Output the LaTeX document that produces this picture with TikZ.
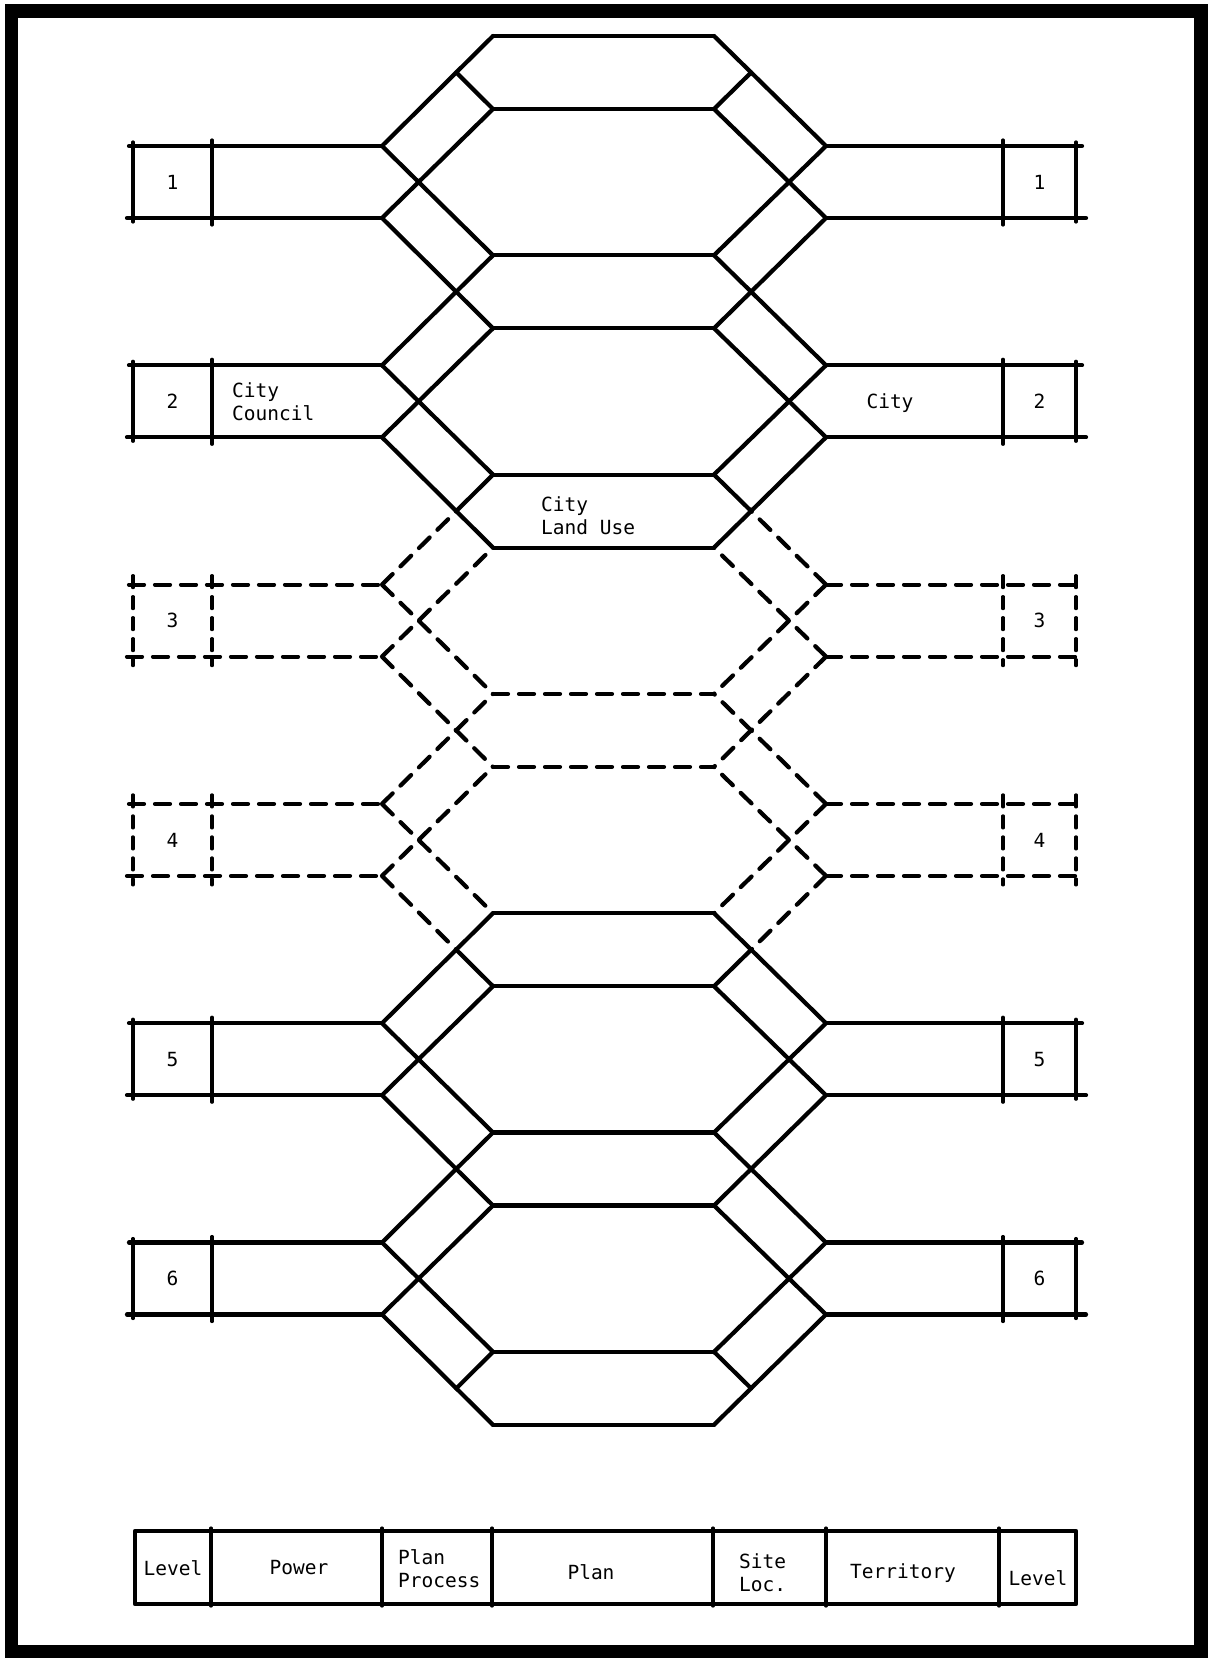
\documentclass[tikz,border=0pt]{standalone}
\usepackage{fontspec}
\setmonofont{DejaVu Sans Mono}
\begin{document}
\begin{tikzpicture}[x=1pt,y=-1pt,
  ln/.style={line width=4.2pt,line cap=round,line join=round},
  dl/.style={ln,dash pattern=on 15pt off 11pt},
  vl/.style={line width=3.2pt,line cap=round},
  vdl/.style={vl,dash pattern=on 12pt off 9pt},
  lab/.style={font=\fontsize{19.5}{23}\selectfont\ttfamily,inner sep=0pt,text=black},
]
\fill[white] (0,0) rectangle (1207,1659);
\useasboundingbox (0,0) rectangle (1207,1659);
\draw[line width=13.5pt] (11.5,11) rectangle (1201,1651.5);

% ---------- coordinates ----------
\foreach \k in {0,...,7} {
  \pgfmathsetmacro{\yt}{146+219.3*(\k-1)}
  \pgfmathsetmacro{\yb}{\yt+72}
  \coordinate (LT\k) at (382,\yt);
  \coordinate (LB\k) at (382,\yb);
  \coordinate (RT\k) at (826,\yt);
  \coordinate (RB\k) at (826,\yb);
}
\foreach \j in {0,...,6} {
  \pgfmathsetmacro{\yt}{36+219.3*\j}
  \pgfmathsetmacro{\yb}{\yt+73}
  \coordinate (PTL\j) at (493,\yt);
  \coordinate (PBL\j) at (493,\yb);
  \coordinate (PTR\j) at (714,\yt);
  \coordinate (PBR\j) at (714,\yb);
}

% ---------- level bands ----------
\foreach \k in {1,2,5,6} {
  \pgfmathsetmacro{\yt}{146+219.3*(\k-1)}
  \pgfmathsetmacro{\yb}{\yt+72}
  \draw[ln] (129,\yt) -- (LT\k) (127,\yb) -- (LB\k);
  \draw[ln] (RT\k) -- (1082,\yt) (RB\k) -- (1086,\yb);
  \draw[vl] (133,\yt-4) -- (133,\yb+4) (212,\yt-6) -- (212,\yb+7);
  \draw[vl] (1003,\yt-6) -- (1003,\yb+7) (1076,\yt-4) -- (1076,\yb+4);
  \node[lab] (numL\k) at (172.5,\yt+36) {\k};
  \node[lab] (numR\k) at (1039.5,\yt+36) {\k};
}
\foreach \k in {3,4} {
  \pgfmathsetmacro{\yt}{146+219.3*(\k-1)}
  \pgfmathsetmacro{\yb}{\yt+72}
  \draw[dl] (129,\yt) -- (LT\k) (127,\yb) -- (LB\k);
  \draw[dl] (RT\k) -- (1084,\yt) (RB\k) -- (1084,\yb);
  \draw[vdl] (133,\yt-9) -- (133,\yb+9) (212,\yt-9) -- (212,\yb+9);
  \draw[vdl] (1003,\yt-9) -- (1003,\yb+9) (1076,\yt-9) -- (1076,\yb+9);
  \node[lab] (numL\k) at (172.5,\yt+36) {\k};
  \node[lab] (numR\k) at (1039.5,\yt+36) {\k};
}

% ---------- plan bands ----------
\foreach \j in {0,1,2,4,5,6} {
  \draw[ln] (PTL\j) -- (PTR\j) (PBL\j) -- (PBR\j);
}
\draw[dl] (PTL3) -- (PTR3) (PBL3) -- (PBR3);

% ---------- diagonal strips (solid levels) ----------
\foreach \k/\u in {1/0,2/1,5/4,6/5} {
  \draw[ln] (LT\k) -- (PTL\u) (LB\k) -- (PBL\u) (LT\k) -- (PTL\k) (LB\k) -- (PBL\k);
  \draw[ln] (RT\k) -- (PTR\u) (RB\k) -- (PBR\u) (RT\k) -- (PTR\k) (RB\k) -- (PBR\k);
}

% ---------- crossing points at solid plan ends ----------
\coordinate (XL2) at (intersection of LT3--PTL2 and LB2--PBL2);
\coordinate (XR2) at (intersection of RT3--PTR2 and RB2--PBR2);
\coordinate (XL4) at (intersection of LB4--PBL4 and LT5--PTL4);
\coordinate (XR4) at (intersection of RB4--PBR4 and RT5--PTR4);
\coordinate (XL0) at (intersection of LT1--PTL0 and LB0--PBL0);
\coordinate (XR0) at (intersection of RT1--PTR0 and RB0--PBR0);
\coordinate (XL6) at (intersection of LB6--PBL6 and LT7--PTL6);
\coordinate (XR6) at (intersection of RB6--PBR6 and RT7--PTR6);

% ---------- diagonal strips (dashed levels) ----------
\draw[dl] (LT3) -- (XL2) (LB3) -- (PBL2) (LT3) -- (PTL3) (LB3) -- (PBL3);
\draw[dl] (RT3) -- (XR2) (RB3) -- (PBR2) (RT3) -- (PTR3) (RB3) -- (PBR3);
\draw[ln] (XL2) -- (PTL2) (XR2) -- (PTR2);
\draw[dl] (LT4) -- (PTL3) (LB4) -- (PBL3) (LT4) -- (PTL4) (LB4) -- (XL4);
\draw[dl] (RT4) -- (PTR3) (RB4) -- (PBR3) (RT4) -- (PTR4) (RB4) -- (XR4);
\draw[ln] (XL4) -- (PBL4) (XR4) -- (PBR4);

% ---------- end caps top and bottom ----------
\draw[ln] (XL0) -- (PBL0) (XR0) -- (PBR0);
\draw[ln] (XL6) -- (PTL6) (XR6) -- (PTR6);

% ---------- labels ----------
\node[lab,anchor=west,align=left] (cc) at (232,402) {City\\Council};
\node[lab] (cty) at (890,403) {City};
\node[lab,anchor=west,align=left] (clu) at (541,516) {City\\Land Use};

% ---------- legend ----------
\draw[ln] (135,1531) rectangle (1076,1604);
\foreach \x in {211,382,492,713,826,999} {
  \draw[vl] (\x,1528) -- (\x,1606);
}
\node[lab] (lg1) at (173,1568) {Level};
\node[lab] (lg2) at (299,1568) {Power};
\node[lab,anchor=west,align=left] (lg3) at (398,1569) {Plan\\Process};
\node[lab] (lg4) at (591,1572) {Plan};
\node[lab,anchor=west,align=left] (lg5) at (739,1573) {Site\\Loc.};
\node[lab] (lg6) at (903,1573) {Territory};
\node[lab] (lg7) at (1038,1578) {Level};
\end{tikzpicture}
\end{document}
